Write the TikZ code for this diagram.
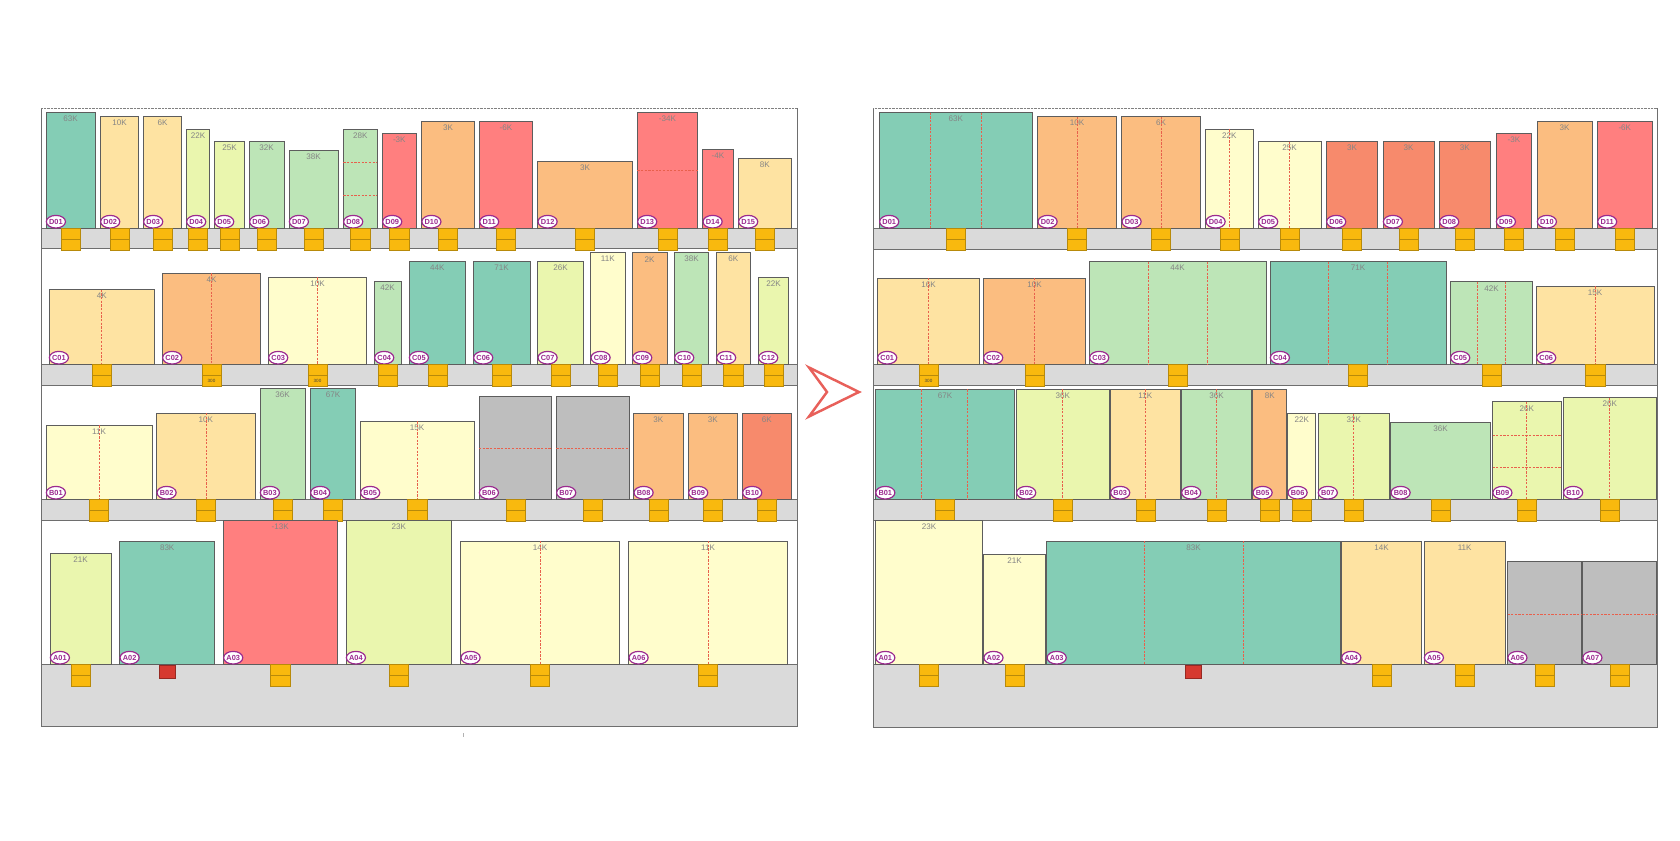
\documentclass[tikz,border=0pt]{standalone}
\usepackage{fontspec}
\setmainfont{Liberation Sans}
\usetikzlibrary{shapes.geometric}
\definecolor{cTeal}{HTML}{84CDB5}
\definecolor{cLG}{HTML}{BDE5B7}
\definecolor{cYG}{HTML}{EAF6AE}
\definecolor{cLY}{HTML}{FFFDCC}
\definecolor{cLO}{HTML}{FEE3A2}
\definecolor{cOr}{HTML}{FBBD80}
\definecolor{cSal}{HTML}{F78A6C}
\definecolor{cRed}{HTML}{FF7F7F}
\definecolor{cGray}{HTML}{BEBEBE}
\definecolor{cShelf}{HTML}{DADADA}
\definecolor{cFrame}{HTML}{6E6E6E}
\definecolor{cPurple}{HTML}{9B2A8F}
\definecolor{cDash}{HTML}{E8604C}
\definecolor{cTag}{HTML}{F9B90E}
\definecolor{cTagLn}{HTML}{B88A0A}
\definecolor{cTagRed}{HTML}{D63A30}
\definecolor{cVal}{HTML}{858585}
\definecolor{cArrow}{HTML}{E8605A}
\tikzset{
  boxln/.style={draw=cFrame!85!black, line width=1.1pt},
  valtxt/.style={text=cVal, font=\fontsize{11.5}{12}\selectfont, inner sep=0pt},
  idtag/.style={ellipse, draw=cPurple, line width=1.7pt, fill=white, text=cPurple,
     font=\bfseries\fontsize{10.5}{11}\selectfont, minimum width=27pt, minimum height=18pt, inner sep=0pt},
  tagln/.style={fill=cTag, draw=cTagLn, line width=0.6pt},
  tagsep/.style={draw=cTagLn, line width=0.6pt},
  tagred/.style={fill=cTagRed, draw=cTagRed!70!black, line width=0.6pt},
  tiny300/.style={font=\fontsize{6.5}{6.5}\selectfont, text=black!75, inner sep=0pt},
  dsh/.style={draw=cDash, line width=1pt, dash pattern=on 3.2pt off 2pt},
  shelfln/.style={fill=cShelf, draw=cFrame, line width=1pt},
  frameln/.style={draw=cFrame, line width=1.1pt},
  topdot/.style={draw=black!50, line width=0.8pt, dash pattern=on 1pt off 1pt},
  chev/.style={draw=cArrow, fill=white, line width=3.5pt, line join=miter},
}
\newcommand\tgN[3]{\draw[tagln] ({#1-9.6},#2) rectangle ({#1+9.6},{#2+21.5});
  \draw[tagsep] ({#1-9.6},{#2+10.8}) -- ({#1+9.6},{#2+10.8});}
\newcommand\tgT[3]{\tgN{#1}{#2}{#3}\node[tiny300] (#3t) at ({#1},{#2+16.2}) {300};}
\newcommand\tgR[3]{\draw[tagred] ({#1-8},{#2+0.7}) rectangle ({#1+8},{#2+13.5});}
% #1 name #2 x1 #3 top #4 x2 #5 bottom #6 colour #7 value #8 id #9 tag type
\newcommand\bx[9]{%
  \draw[boxln, fill=#6] (#2,#3) rectangle (#4,#5);
  \node[valtxt] (#1v) at ({(#2+#4)/2},{#3+6.5}) {#7};
  \node[idtag] (#1) at ({#2+9.9},{#5-6.6}) {#8};
  \csname tg#9\endcsname{(#2+#4)/2}{#5}{#1}}
\newcommand\vd[3]{\draw[dsh] (#1,#2) -- (#1,#3);}
\newcommand\hd[3]{\draw[dsh] (#1,#3) -- (#2,#3);}
\begin{document}
\begin{tikzpicture}[x=0.05cm, y=-0.05cm]
\useasboundingbox (0,0) rectangle (1680,840);
% ================= LEFT PANEL =================
\draw[shelfln] (41,228.3) rectangle (797,248.6);
\draw[shelfln] (41,364.3) rectangle (797,385.2);
\draw[shelfln] (41,499.3) rectangle (797,520);
\draw[shelfln] (41,664.3) rectangle (797,726);
\draw[frameln] (41,108) -- (41,726) -- (797,726) -- (797,108);
\draw[topdot] (41,108) -- (797,108);
% D row
\bx{LD01}{46}{112.7}{95.3}{228.3}{cTeal}{63K}{D01}{N}
\bx{LD02}{100.3}{116.7}{138.7}{228.3}{cLO}{10K}{D02}{N}
\bx{LD03}{143.3}{116.7}{181.7}{228.3}{cLO}{6K}{D03}{N}
\bx{LD04}{186.3}{129.3}{209.7}{228.3}{cYG}{22K}{D04}{N}
\bx{LD05}{214.3}{141.7}{244.7}{228.3}{cYG}{25K}{D05}{N}
\bx{LD06}{249.3}{141.7}{284}{228.3}{cLG}{32K}{D06}{N}
\bx{LD07}{289}{150}{338.3}{228.3}{cLG}{38K}{D07}{N}
\bx{LD08}{343.3}{129.3}{377.3}{228.3}{cLG}{28K}{D08}{N}
\hd{343.3}{377.3}{162}\hd{343.3}{377.3}{195.3}
\bx{LD09}{382.3}{133.3}{416.3}{228.3}{cRed}{-3K}{D09}{N}
\bx{LD10}{421.5}{121}{474.7}{228.3}{cOr}{3K}{D10}{N}
\bx{LD11}{479.3}{121}{532.7}{228.3}{cRed}{-6K}{D11}{N}
\bx{LD12}{537.7}{161.7}{632.3}{228.3}{cOr}{3K}{D12}{N}
\bx{LD13}{637.3}{112.7}{697.7}{228.3}{cRed}{-34K}{D13}{N}
\hd{637.3}{697.7}{170.3}
\bx{LD14}{702.7}{149.7}{733.3}{228.3}{cRed}{-4K}{D14}{N}
\bx{LD15}{738.3}{158}{791.3}{228.3}{cLO}{8K}{D15}{N}
% C row
\bx{LC01}{49}{289.7}{154.7}{364.3}{cLO}{4K}{C01}{N}\vd{101.8}{289.7}{364.3}
\bx{LC02}{162.3}{273.3}{260.7}{364.3}{cOr}{4K}{C02}{T}\vd{211.5}{273.3}{364.3}
\bx{LC03}{268.3}{277.3}{366.7}{364.3}{cLY}{10K}{C03}{T}\vd{317.5}{277.3}{364.3}
\bx{LC04}{374.3}{281.3}{401}{364.3}{cLG}{42K}{C04}{N}
\bx{LC05}{409}{261}{465.7}{364.3}{cTeal}{44K}{C05}{N}
\bx{LC06}{473.3}{261}{530}{364.3}{cTeal}{71K}{C06}{N}
\bx{LC07}{537.7}{261}{583.3}{364.3}{cYG}{26K}{C07}{N}
\bx{LC08}{590.7}{252.7}{625}{364.3}{cLY}{11K}{C08}{N}
\bx{LC09}{632.3}{252.7}{667}{364.3}{cOr}{2K}{C09}{N}
\bx{LC10}{674.3}{252.7}{708.7}{364.3}{cLG}{38K}{C10}{N}
\bx{LC11}{716.3}{252.7}{750.3}{364.3}{cLO}{6K}{C11}{N}
\bx{LC12}{758.3}{277.3}{788.7}{364.3}{cYG}{22K}{C12}{N}
% B row
\bx{LB01}{46}{425.3}{152}{499.3}{cLY}{11K}{B01}{N}\vd{99}{425.3}{499.3}
\bx{LB02}{156.7}{413}{255}{499.3}{cLO}{10K}{B02}{N}\vd{206}{413}{499.3}
\bx{LB03}{260}{388.3}{305.3}{499.3}{cLG}{36K}{B03}{N}
\bx{LB04}{310.3}{388.3}{355.7}{499.3}{cTeal}{67K}{B04}{N}
\bx{LB05}{360.3}{421.3}{474}{499.3}{cLY}{15K}{B05}{N}\vd{417.3}{421.3}{499.3}
\bx{LB06}{479}{396.7}{551.7}{499.3}{cGray}{}{B06}{N}\hd{479}{551.7}{448.3}
\bx{LB07}{556.3}{396.7}{629}{499.3}{cGray}{}{B07}{N}\hd{556.3}{629}{448.3}
\bx{LB08}{633.7}{413}{683}{499.3}{cOr}{3K}{B08}{N}
\bx{LB09}{688.3}{413}{737.3}{499.3}{cOr}{3K}{B09}{N}
\bx{LB10}{742.3}{413}{791.3}{499.3}{cSal}{6K}{B10}{N}
% A row
\bx{LA01}{50}{553}{111}{664.3}{cYG}{21K}{A01}{N}
\bx{LA02}{119.7}{541}{214.7}{664.3}{cTeal}{83K}{A02}{R}
\bx{LA03}{223.3}{520}{337}{664.3}{cRed}{-13K}{A03}{N}
\bx{LA04}{346}{520}{451.7}{664.3}{cYG}{23K}{A04}{N}
\bx{LA05}{460.7}{541}{619.3}{664.3}{cLY}{14K}{A05}{N}\vd{540}{541}{664.3}
\bx{LA06}{628.7}{541}{787.3}{664.3}{cLY}{11K}{A06}{N}\vd{708}{541}{664.3}
\draw[draw=black!30, line width=0.6pt] (463.5,733) -- (463.5,737);
% ================= ARROW =================
\draw[chev] (809,367.5) -- (859,392) -- (809,416.5) -- (827,392) -- cycle;
% ================= RIGHT PANEL =================
\draw[shelfln] (873.3,228.3) rectangle (1657.7,249);
\draw[shelfln] (873.3,364.3) rectangle (1657.7,385.3);
\draw[shelfln] (873.3,499.3) rectangle (1657.7,520.7);
\draw[shelfln] (873.3,664.3) rectangle (1657.7,727.5);
\draw[frameln] (873.3,108.3) -- (873.3,727.5) -- (1657.7,727.5) -- (1657.7,108.3);
\draw[topdot] (873.3,108.3) -- (1657.7,108.3);
% D row
\bx{RD01}{879.3}{112.7}{1032.3}{228.3}{cTeal}{63K}{D01}{N}\vd{930.3}{112.7}{228.3}\vd{981}{112.7}{228.3}
\bx{RD02}{1037.7}{116.7}{1116.3}{228.3}{cOr}{10K}{D02}{N}\vd{1077}{116.7}{228.3}
\bx{RD03}{1121.7}{116.7}{1200.3}{228.3}{cOr}{6K}{D03}{N}\vd{1161}{116.7}{228.3}
\bx{RD04}{1205.7}{129.3}{1253}{228.3}{cLY}{22K}{D04}{N}\vd{1229.3}{129.3}{228.3}
\bx{RD05}{1258.3}{141.7}{1321}{228.3}{cLY}{25K}{D05}{N}\vd{1289.7}{141.7}{228.3}
\bx{RD06}{1326.3}{141.7}{1377.7}{228.3}{cSal}{3K}{D06}{N}
\bx{RD07}{1383}{141.7}{1434}{228.3}{cSal}{3K}{D07}{N}
\bx{RD08}{1439.3}{141.7}{1490.3}{228.3}{cSal}{3K}{D08}{N}
\bx{RD09}{1496}{133.3}{1531.7}{228.3}{cRed}{-3K}{D09}{N}
\bx{RD10}{1537}{121}{1592}{228.3}{cOr}{3K}{D10}{N}
\bx{RD11}{1597.3}{121}{1652.3}{228.3}{cRed}{-6K}{D11}{N}
% C row
\bx{RC01}{877.3}{278}{979.7}{364.3}{cLO}{16K}{C01}{T}\vd{928.5}{278}{364.3}
\bx{RC02}{983.3}{278}{1085.7}{364.3}{cOr}{10K}{C02}{N}\vd{1034.5}{278}{364.3}
\bx{RC03}{1089.3}{261.7}{1266}{364.3}{cLG}{44K}{C03}{N}\vd{1148.3}{261.7}{364.3}\vd{1207}{261.7}{364.3}
\bx{RC04}{1270}{261.7}{1446}{364.3}{cTeal}{71K}{C04}{N}\vd{1328.7}{261.7}{364.3}\vd{1387.3}{261.7}{364.3}
\bx{RC05}{1450.3}{281.7}{1532.7}{364.3}{cLG}{42K}{C05}{N}\vd{1477.7}{281.7}{364.3}\vd{1505.3}{281.7}{364.3}
\bx{RC06}{1536.3}{286.3}{1654}{364.3}{cLO}{15K}{C06}{N}\vd{1595.2}{286.3}{364.3}
% B row
\bx{RB01}{875.4}{389.3}{1014.6}{499.3}{cTeal}{67K}{B01}{N}\vd{921}{389.3}{499.3}\vd{967.7}{389.3}{499.3}
\bx{RB02}{1016.3}{389.3}{1109.3}{499.3}{cYG}{36K}{B02}{N}\vd{1062.8}{389.3}{499.3}
\bx{RB03}{1110.3}{389.3}{1180.3}{499.3}{cLO}{11K}{B03}{N}\vd{1145.3}{389.3}{499.3}
\bx{RB04}{1181.3}{389.3}{1251.7}{499.3}{cLG}{36K}{B04}{N}\vd{1216.5}{389.3}{499.3}
\bx{RB05}{1252.7}{389.3}{1286.7}{499.3}{cOr}{8K}{B05}{N}
\bx{RB06}{1287.7}{413.6}{1315.7}{499.3}{cLY}{22K}{B06}{N}
\bx{RB07}{1317.9}{413.6}{1389.6}{499.3}{cYG}{32K}{B07}{N}\vd{1353.8}{413.6}{499.3}
\bx{RB08}{1390.7}{422}{1490.4}{499.3}{cLG}{36K}{B08}{N}
\bx{RB09}{1492.5}{401.8}{1561}{499.3}{cYG}{26K}{B09}{N}\hd{1492.5}{1561}{435}\hd{1492.5}{1561}{467}\vd{1526.8}{401.8}{499.3}
\bx{RB10}{1563.2}{397.5}{1656.4}{499.3}{cYG}{26K}{B10}{N}\vd{1609.8}{397.5}{499.3}
% A row
\bx{RA01}{875.4}{520.7}{982.5}{664.3}{cLY}{23K}{A01}{N}
\bx{RA02}{983.6}{554}{1045.7}{664.3}{cLY}{21K}{A02}{N}
\bx{RA03}{1046.8}{541}{1340.4}{664.3}{cTeal}{83K}{A03}{R}\vd{1144.3}{541}{664.3}\vd{1242.9}{541}{664.3}
\bx{RA04}{1341.4}{541}{1421.8}{664.3}{cLO}{14K}{A04}{N}
\bx{RA05}{1424}{541}{1505.4}{664.3}{cLO}{11K}{A05}{N}
\bx{RA06}{1507.5}{561.4}{1581.4}{664.3}{cGray}{}{A06}{N}\hd{1507.5}{1581.4}{614}
\bx{RA07}{1582.5}{561.4}{1656.5}{664.3}{cGray}{}{A07}{N}\hd{1582.5}{1656.5}{614}
\end{tikzpicture}
\end{document}
